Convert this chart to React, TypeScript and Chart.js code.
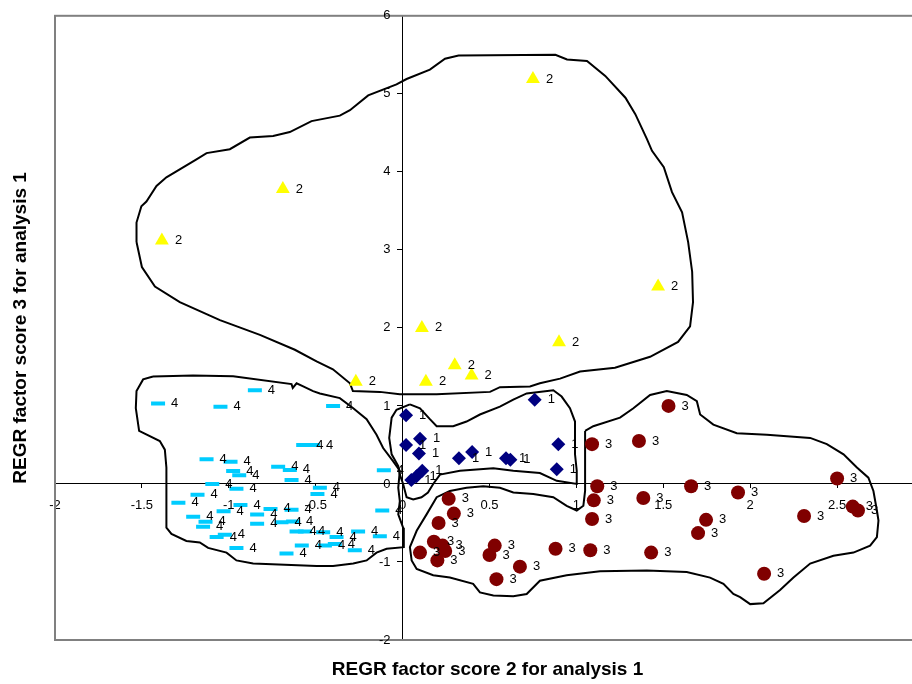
import React, { useEffect, useRef } from 'react';
import { Chart, registerables } from 'chart.js';

Chart.register(...registerables);

// ---- Group 1 (navy diamonds) ----
const group1X = [0.02, 0.76, 0.10, 0.02, 0.094, 0.324, 0.40, 0.595, 0.62, 0.896, 0.887, 0.113, 0.08, 0.05];
const group1Y = [0.88, 1.08, 0.58, 0.50, 0.39, 0.33, 0.41, 0.33, 0.31, 0.51, 0.19, 0.17, 0.10, 0.05];

// ---- Group 2 (yellow triangles) ----
const group2X = [-1.385, -0.689, 0.75, 1.47, 0.90, 0.111, 0.30, 0.397, 0.134, -0.269];
const group2Y = [3.12, 3.78, 5.19, 2.53, 1.815, 2.00, 1.52, 1.39, 1.31, 1.31];

// ---- Group 3 (dark red circles) ----
const group3X = [1.53, 1.09, 1.36, 1.12, 1.10, 1.09, 1.385, 1.66, 1.93, 1.746, 1.70, 2.50, 2.59, 2.62, 2.31, 2.08, 1.43, 1.08, 0.88, 0.675, 0.54, 0.53, 0.50, 0.265, 0.295, 0.207, 0.18, 0.23, 0.245, 0.10, 0.20];
const group3Y = [1.00, 0.51, 0.55, -0.03, -0.21, -0.45, -0.18, -0.03, -0.11, -0.46, -0.63, 0.07, -0.29, -0.34, -0.41, -1.15, -0.88, -0.85, -0.83, -1.06, -1.22, -0.79, -0.91, -0.19, -0.38, -0.50, -0.74, -0.79, -0.86, -0.88, -0.98];

// ---- Group 4 (cyan dashes) ----
const group4X = [-1.407, -1.048, -0.85, -0.40, -0.572, -0.515, -0.716, -0.649, -0.639, -0.108, -0.476, -0.49, -1.128, -0.99, -0.975, -0.94, -1.095, -0.956, -1.18, -1.29, -1.03, -0.933, -0.837, -0.837, -1.205, -1.134, -1.148, -1.07, -1.023, -0.956, -0.76, -0.639, -0.117, -0.697, -0.63, -0.61, -0.562, -0.457, -0.38, -0.256, -0.131, -0.58, -0.447, -0.39, -0.275, -0.668];
const group4Y = [1.03, 0.99, 1.20, 1.00, 0.50, 0.50, 0.22, 0.18, 0.05, 0.175, -0.05, -0.13, 0.315, 0.285, 0.166, 0.11, 0.00, -0.06, -0.14, -0.24, -0.35, -0.27, -0.39, -0.51, -0.42, -0.485, -0.55, -0.68, -0.65, -0.82, -0.32, -0.33, -0.34, -0.49, -0.48, -0.61, -0.61, -0.62, -0.68, -0.61, -0.67, -0.79, -0.79, -0.77, -0.85, -0.89];

// ---- Group outlines (closed hand-drawn contours, data units) ----
const outline2X = [-1.531, -1.531, -1.503, -1.474, -1.416, -1.359, -1.186, -1.128, -0.994, -0.879, -0.745, -0.649, -0.524, -0.361, -0.303, -0.198, -0.035, 0.023, 0.157, 0.244, 0.322, 0.879, 0.946, 1.061, 1.166, 1.282, 1.339, 1.406, 1.435, 1.503, 1.550, 1.608, 1.643, 1.666, 1.671, 1.654, 1.585, 1.424, 1.222, 1.021, 0.906, 0.790, 0.733, 0.560, 0.503, 0.196, -0.016, -0.131, -0.286, -0.303, -0.401, -0.495, -0.620, -0.821, -1.051, -1.282, -1.425, -1.500];
const outline2Y = [3.10, 3.35, 3.56, 3.62, 3.82, 3.93, 4.16, 4.24, 4.29, 4.44, 4.46, 4.51, 4.65, 4.72, 4.79, 4.98, 5.12, 5.19, 5.31, 5.45, 5.49, 5.50, 5.44, 5.42, 5.23, 4.95, 4.74, 4.42, 4.27, 4.06, 3.74, 3.48, 3.10, 2.72, 2.33, 2.02, 1.82, 1.63, 1.49, 1.44, 1.35, 1.29, 1.25, 1.24, 1.18, 1.15, 1.15, 1.18, 1.19, 1.29, 1.47, 1.57, 1.72, 1.91, 2.10, 2.33, 2.53, 2.78];

const outline4X = [-1.436, -1.206, -0.975, -0.639, -0.632, -0.610, -0.572, -0.515, -0.476, -0.361, -0.284, -0.207, -0.150, -0.112, -0.054, -0.016, -0.025, -0.016, -0.025, 0.003, 0.007, -0.092, -0.150, -0.207, -0.284, -0.400, -0.495, -0.860, -0.956, -1.013, -1.119, -1.167, -1.244, -1.330, -1.359, -1.359, -1.368, -1.397, -1.516, -1.535, -1.531, -1.493];
const outline4Y = [1.378, 1.39, 1.38, 1.28, 1.23, 1.29, 1.25, 1.19, 1.16, 1.10, 0.97, 0.83, 0.63, 0.46, 0.29, 0.17, -0.05, -0.22, -0.39, -0.56, -0.81, -0.83, -0.88, -0.98, -1.02, -1.05, -1.05, -1.02, -0.98, -0.88, -0.82, -0.75, -0.73, -0.64, -0.56, 0.21, 0.44, 0.55, 0.68, 0.97, 1.19, 1.34];

const outline1X = [0.042, 0.100, 0.157, 0.196, 0.291, 0.368, 0.445, 0.560, 0.637, 0.714, 0.867, 0.915, 0.963, 0.992, 0.992, 1.002, 1.002, 0.887, 0.790, 0.637, 0.522, 0.330, 0.215, 0.176, 0.146, 0.109, 0.061, 0.023, 0.003, -0.016, -0.025, -0.063, -0.077, -0.063, -0.035];
const outline1Y = [1.02, 0.97, 0.83, 0.74, 0.74, 0.80, 0.89, 0.99, 1.08, 1.16, 1.20, 1.12, 0.97, 0.80, 0.38, 0.17, 0.00, 0.04, 0.14, 0.17, 0.20, 0.17, 0.12, 0.00, -0.11, -0.17, -0.20, -0.17, 0.00, 0.12, 0.23, 0.38, 0.59, 0.85, 0.95];

const outline3X = [1.050, 1.097, 1.251, 1.328, 1.424, 1.520, 1.635, 1.693, 1.712, 1.788, 1.923, 2.096, 2.345, 2.441, 2.537, 2.614, 2.680, 2.709, 2.729, 2.738, 2.729, 2.690, 2.594, 2.479, 2.345, 2.249, 2.172, 2.076, 2.000, 1.942, 1.903, 1.846, 1.769, 1.635, 1.405, 1.136, 0.944, 0.790, 0.714, 0.637, 0.522, 0.445, 0.406, 0.272, 0.176, 0.081, 0.052, 0.042, 0.081, 0.138, 0.196, 0.272, 0.368, 0.464, 0.560, 0.637, 0.752, 0.867, 0.944, 1.002, 1.040, 1.050];
const outline3Y = [0.68, 0.74, 0.85, 0.97, 1.14, 1.19, 1.14, 1.06, 0.89, 0.76, 0.65, 0.63, 0.59, 0.51, 0.38, 0.21, 0.08, -0.09, -0.34, -0.47, -0.68, -0.79, -0.88, -0.92, -1.02, -1.20, -1.36, -1.53, -1.54, -1.45, -1.41, -1.28, -1.20, -1.13, -1.11, -1.12, -1.17, -1.24, -1.41, -1.44, -1.43, -1.39, -1.28, -1.20, -1.17, -1.09, -0.98, -0.81, -0.60, -0.39, -0.17, -0.09, -0.05, -0.03, -0.05, -0.11, -0.13, -0.17, -0.28, -0.34, -0.28, -0.09];

// ---- Axes / text ----
const xTitle = 'REGR factor score 2 for analysis 1';
const yTitle = 'REGR factor score 3 for analysis 1';
const xMin = -2, xMax = 3, xStep = 0.5;
const yMin = -2, yMax = 6, yStep = 1;
const yTickValues = [-2, -1, 0, 1, 2, 3, 4, 5, 6];
const yTickLabels = ['-2', '-1', '0', '1', '2', '3', '4', '5', '6'];

const FONT = '"Liberation Sans", Arial, sans-serif';

const pts = (xs: number[], ys: number[]) => xs.map((x, i) => ({ x, y: ys[i] }));
const closed = (xs: number[], ys: number[]) => {
  const p = pts(xs, ys);
  return p.concat([p[0]]);
};

const pointLabelPlugin = {
  id: 'pointLabels',
  afterDatasetsDraw(chart: any) {
    const ctx = chart.ctx;
    ctx.save();
    ctx.font = `13px ${FONT}`;
    ctx.fillStyle = '#000';
    ctx.textAlign = 'left';
    ctx.textBaseline = 'middle';
    chart.data.datasets.forEach((ds: any, i: number) => {
      if (!ds.pointText) return;
      const meta = chart.getDatasetMeta(i);
      meta.data.forEach((el: any) => {
        ctx.fillText(ds.pointText, el.x + 13, el.y);
      });
    });
    ctx.restore();
  },
};

const framePlugin = {
  id: 'frameAndTitles',
  afterDraw(chart: any) {
    const { ctx, chartArea, scales } = chart;
    ctx.save();
    ctx.strokeStyle = '#808080';
    ctx.lineWidth = 2;
    ctx.strokeRect(chartArea.left, chartArea.top, chartArea.right - chartArea.left, chartArea.bottom - chartArea.top);

    // y tick labels, left of the vertical axis
    ctx.fillStyle = '#000';
    ctx.font = `13px ${FONT}`;
    ctx.textAlign = 'right';
    ctx.textBaseline = 'middle';
    const axisX = scales.x.getPixelForValue(0);
    yTickValues.forEach((v, i) => {
      ctx.fillText(yTickLabels[i], axisX - 12, scales.y.getPixelForValue(v));
    });

    ctx.font = `bold 19px ${FONT}`;
    ctx.textAlign = 'center';
    ctx.textBaseline = 'middle';
    ctx.fillText(xTitle, (chartArea.left + chartArea.right) / 2 - 2, 670);
    ctx.translate(21, (chartArea.top + chartArea.bottom) / 2);
    ctx.rotate(-Math.PI / 2);
    ctx.fillText(yTitle, 0, 0);
    ctx.restore();
  },
};

export default function App() {
  const ref = useRef<HTMLCanvasElement | null>(null);

  useEffect(() => {
    if (!ref.current) return;
    const outlineStyle = {
      showLine: true,
      pointRadius: 0,
      borderColor: '#000',
      borderWidth: 2,
      fill: false,
      tension: 0,
      order: 10,
    };
    const chart = new Chart(ref.current, {
      type: 'scatter',
      data: {
        datasets: [
          { label: 'outline 2', data: closed(outline2X, outline2Y), ...outlineStyle } as any,
          { label: 'outline 4', data: closed(outline4X, outline4Y), ...outlineStyle } as any,
          { label: 'outline 1', data: closed(outline1X, outline1Y), ...outlineStyle } as any,
          { label: 'outline 3', data: closed(outline3X, outline3Y), ...outlineStyle } as any,
          {
            label: '4', pointText: '4', data: pts(group4X, group4Y),
            pointStyle: 'line', pointRadius: 7, borderColor: '#00CCFF', borderWidth: 4,
            backgroundColor: '#00CCFF', order: 4,
          } as any,
          {
            label: '3', pointText: '3', data: pts(group3X, group3Y),
            pointStyle: 'circle', pointRadius: 7, borderColor: '#800000', borderWidth: 0,
            backgroundColor: '#800000', order: 3,
          } as any,
          {
            label: '1', pointText: '1', data: pts(group1X, group1Y),
            pointStyle: 'rectRot', pointRadius: 7, borderColor: '#000080', borderWidth: 0,
            backgroundColor: '#000080', order: 2,
          } as any,
          {
            label: '2', pointText: '2', data: pts(group2X, group2Y),
            pointStyle: 'triangle', pointRadius: 8, borderColor: '#FFFF00', borderWidth: 0,
            backgroundColor: '#FFFF00', order: 1,
          } as any,
        ],
      },
      options: {
        animation: false,
        responsive: false,
        devicePixelRatio: 1,
        layout: { padding: { left: 55, top: 13, right: 16, bottom: 44 } },
        plugins: { legend: { display: false }, tooltip: { enabled: false } },
        scales: {
          x: {
            type: 'linear',
            min: xMin,
            max: xMax,
            position: { y: 0 } as any,
            ticks: {
              stepSize: xStep, color: '#000', font: { family: FONT, size: 13 }, padding: 10,
              maxRotation: 0, autoSkip: false,
              callback: (v: any) => String(Number(v)),
            },
            grid: { drawOnChartArea: false, tickLength: 4, color: '#000' },
            border: { color: '#000', width: 1 },
          },
          y: {
            type: 'linear',
            min: yMin,
            max: yMax,
            position: { x: 0 } as any,
            ticks: { stepSize: yStep, color: 'rgba(0,0,0,0)', font: { family: FONT, size: 13 }, padding: 8 },
            grid: { drawOnChartArea: false, tickLength: 5, color: '#000' },
            border: { color: '#000', width: 1 },
          },
        },
      },
      plugins: [pointLabelPlugin, framePlugin],
    });
    return () => chart.destroy();
  }, []);

  return (
    <div style={{ position: 'fixed', left: 0, top: 0, width: 912, height: 684, overflow: 'hidden', background: '#fff' }}>
      <canvas ref={ref} width={940} height={684} style={{ display: 'block', width: 940, height: 684 }} />
    </div>
  );
}
